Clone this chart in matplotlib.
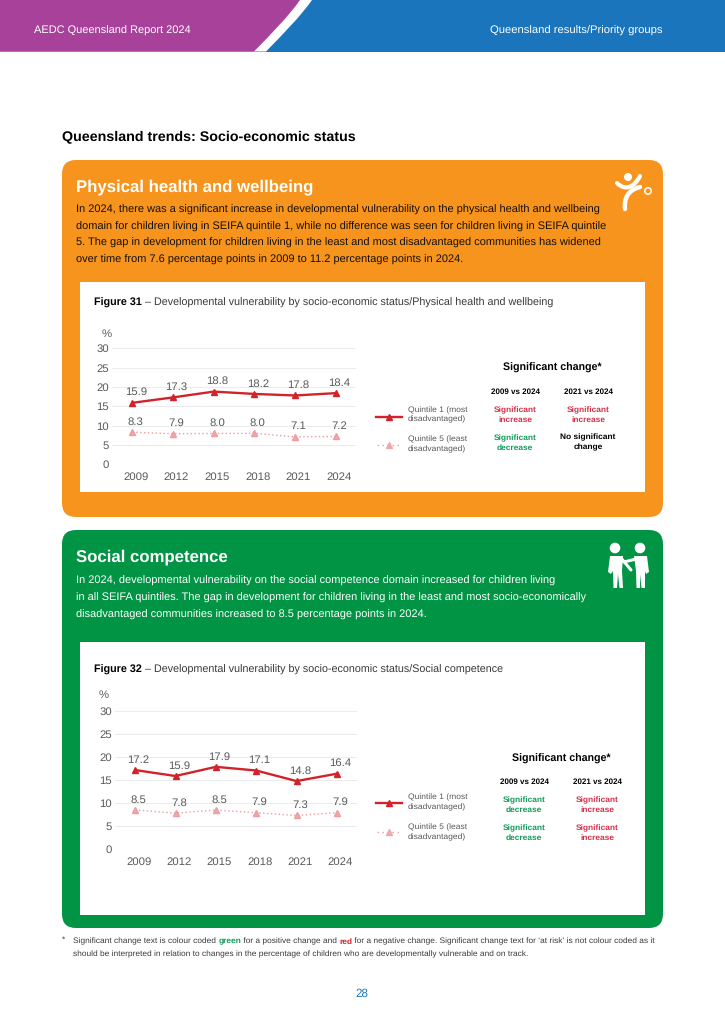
import matplotlib
matplotlib.use('Agg')
import matplotlib.pyplot as plt
from matplotlib.patches import FancyBboxPatch, PathPatch, Circle, Rectangle, Polygon
from matplotlib.path import Path
from matplotlib.transforms import ScaledTranslation

plt.rcParams['font.family'] = ['Liberation Sans', 'DejaVu Sans']
plt.rcParams['text.hinting'] = 'no_hinting'

W, H = 725, 1024

# chart data
years = ['2009', '2012', '2015', '2018', '2021', '2024']
fig31_q1 = [15.9, 17.3, 18.8, 18.2, 17.8, 18.4]
fig31_q5 = [8.3, 7.9, 8.0, 8.0, 7.1, 7.2]
fig32_q1 = [17.2, 15.9, 17.9, 17.1, 14.8, 16.4]
fig32_q5 = [8.5, 7.8, 8.5, 7.9, 7.3, 7.9]
y_ticks = [0, 5, 10, 15, 20, 25, 30]

fig31_cells = [['Significant\nincrease', 'Significant\nincrease'],
               ['Significant\ndecrease', 'No significant\nchange']]
fig32_cells = [['Significant\ndecrease', 'Significant\nincrease'],
               ['Significant\ndecrease', 'Significant\nincrease']]

body_physical = ['In 2024, there was a significant increase in developmental vulnerability on the physical health and wellbeing',
                 'domain for children living in SEIFA quintile 1, while no difference was seen for children living in SEIFA quintile',
                 '5. The gap in development for children living in the least and most disadvantaged communities has widened',
                 'over time from 7.6 percentage points in 2009 to 11.2 percentage points in 2024.']
body_social = ['In 2024, developmental vulnerability on the social competence domain increased for children living',
               'in all SEIFA quintiles. The gap in development for children living in the least and most socio-economically',
               'disadvantaged communities increased to 8.5 percentage points in 2024.']

PURPLE = '#A8419A'
BLUE = '#1B75BC'
ORANGE = '#F7941D'
GREEN = '#009444'
RED = '#D2232A'
PINK = '#EE9CA0'
CELL_RED = '#D2304A'
CELL_GREEN = '#139A5B'
GREY = '#58595B'

fig = plt.figure(figsize=(W / 100, H / 100), dpi=100, facecolor='white')
page = fig.add_axes([0, 0, 1, 1])
page.set_xlim(0, W)
page.set_ylim(H, 0)
page.axis('off')


def txt(x, y, s, size, color='black', weight='normal', ha='left', **kw):
    return page.text(x, y + 0.7, s, fontsize=size, color=color, fontweight=weight,
                     ha=ha, va='center', **kw)


# header band
page.add_patch(Rectangle((0, 0), W, 51.5, fc=BLUE, ec='none'))
slash = Path([(266, 51.5), (284, 33), (300, 17), (312, 0), (0, 0), (0, 51.5), (266, 51.5)],
             [Path.MOVETO, Path.CURVE4, Path.CURVE4, Path.CURVE4, Path.LINETO, Path.LINETO, Path.CLOSEPOLY])
page.add_patch(PathPatch(slash, fc='white', ec='none'))
purple = Path([(254, 51.5), (272, 33), (288, 17), (300, 0), (0, 0), (0, 51.5), (254, 51.5)],
              [Path.MOVETO, Path.CURVE4, Path.CURVE4, Path.CURVE4, Path.LINETO, Path.LINETO, Path.CLOSEPOLY])
page.add_patch(PathPatch(purple, fc=PURPLE, ec='none'))
txt(34, 30, 'AEDC Queensland Report 2024', 7.95, 'white')
txt(663, 30, 'Queensland results/Priority groups', 8.15, 'white', ha='right')

txt(62, 136, 'Queensland trends: Socio-economic status', 10.3, 'black', 'bold')


def panel(x0, y0, x1, y1, color):
    page.add_patch(FancyBboxPatch((x0 + 14, y0 + 14), x1 - x0 - 28, y1 - y0 - 28,
                                  boxstyle='round,pad=14,rounding_size=14',
                                  fc=color, ec='none', mutation_aspect=1))


def chart(left, right, top_y, zero_y, q1, q5):
    # y range 0-30 sits between the two gridline pixel rows
    ax = fig.add_axes([left / W, 1 - zero_y / H, (right - left) / W, (zero_y - top_y) / H])
    ax.patch.set_alpha(0)
    x = range(len(years))
    ax.plot(x, q5, color=PINK, lw=1.0, ls=(0, (1, 1.8)), marker='^', ms=4.4, mec=PINK, mfc='#F0A8AC', zorder=3)
    ax.plot(x, q1, color=RED, lw=1.7, marker='^', ms=4.4, mec=RED, mfc=RED, zorder=4)
    # labels in the reference sit a little right of their points
    for i in x:
        ax.annotate(f'{q1[i]:.1f}', (i, q1[i]), xytext=(2.5, 7.4), textcoords='offset points',
                    ha='center', va='center', fontsize=8.2, color=GREY)
        ax.annotate(f'{q5[i]:.1f}', (i, q5[i]), xytext=(2.5, 7.4), textcoords='offset points',
                    ha='center', va='center', fontsize=8.2, color=GREY)
    ax.set_xlim(-0.5, 5.5)
    ax.set_ylim(0, 30)
    ax.set_xticks(list(x))
    ax.set_xticklabels(years)
    ax.set_yticks(y_ticks)
    ax.grid(axis='y', color='#EAEBEC', lw=0.7)
    ax.set_axisbelow(True)
    ax.tick_params(axis='both', length=0, labelsize=8.2, labelcolor=GREY, pad=2)
    ax.tick_params(axis='x', pad=5.5)
    shift = ScaledTranslation(2.5 / 72, 0, fig.dpi_scale_trans)
    for lab in ax.get_xticklabels():
        lab.set_transform(lab.get_transform() + shift)
    for s in ax.spines.values():
        s.set_visible(False)
    return ax


def legend_block(line_y, q1_rows, q5_y, q5_rows):
    page.plot([376, 402], [line_y, line_y], color=RED, lw=1.7, zorder=3)
    page.plot([389], [line_y], marker='^', ms=4.2, color=RED, zorder=4)
    page.plot([377, 401], [q5_y, q5_y], color=PINK, lw=1.0, ls=(0, (1, 2.6)), zorder=3)
    page.plot([389], [q5_y], marker='^', ms=4.2, color='#F0A8AC', zorder=4)
    txt(408, q1_rows[0], 'Quintile 1 (most', 6.1, GREY)
    txt(408, q1_rows[1], 'disadvantaged)', 6.1, GREY)
    txt(408, q5_rows[0], 'Quintile 5 (least', 6.1, GREY)
    txt(408, q5_rows[1], 'disadvantaged)', 6.1, GREY)


def change_table(title_x, title_y, head_y, col_x, row_y, cells):
    txt(title_x, title_y, 'Significant change*', 7.7, 'black', 'bold', ha='center')
    heads = ['2009 vs 2024', '2021 vs 2024']
    for c in range(2):
        txt(col_x[c], head_y, heads[c], 5.8, 'black', 'bold', ha='center')
        for r in range(2):
            s = cells[r][c]
            col = CELL_RED if 'increase' in s else CELL_GREEN
            if s.startswith('No'):
                col = 'black'
            txt(col_x[c], row_y[r], s, 6.0, col, 'bold', ha='center', linespacing=1.42)


# physical health panel
panel(62, 160, 663, 517, ORANGE)
txt(76, 186, 'Physical health and wellbeing', 12.1, 'white', 'bold')
for i in range(len(body_physical)):
    txt(76, [209, 226, 242, 259][i], body_physical[i], 7.95, '#140F05')
page.add_patch(Rectangle((80, 282), 565, 210, fc='white', ec='none'))
t = txt(94, 302, 'Figure 31', 7.75, 'black', 'bold')
fig.canvas.draw()
bb = t.get_window_extent()
txt(bb.x1 + 3, 302, '– Developmental vulnerability by socio-economic status/Physical health and wellbeing', 7.75, '#3A3A3C')
txt(107, 333, '%', 8.2, GREY, ha='center')
chart(112, 356, 348.3, 464.3, fig31_q1, fig31_q5)
legend_block(416.7, (410, 419), 445, (439, 449))
change_table(552, 367, 391, (515, 588), (414, 442), fig31_cells)

# runner icon
page.add_patch(Circle((628, 177), 4, fc='white', ec='none'))
page.add_patch(Circle((648, 191), 3.2, fc='none', ec='white', lw=1.1))
arm = Path([(617, 183), (626, 192), (635, 186), (640, 176)], [Path.MOVETO, Path.CURVE4, Path.CURVE4, Path.CURVE4])
page.add_patch(PathPatch(arm, fc='none', ec='white', lw=3, capstyle='round'))
leg = Path([(640, 187), (628, 190), (624, 198), (625, 209)], [Path.MOVETO, Path.CURVE4, Path.CURVE4, Path.CURVE4])
page.add_patch(PathPatch(leg, fc='none', ec='white', lw=3.2, capstyle='round'))

# social competence panel
panel(62, 530, 663, 928, GREEN)
txt(76, 556, 'Social competence', 12.1, 'white', 'bold')
for i in range(len(body_social)):
    txt(76, [580, 597, 614][i], body_social[i], 7.95, 'white')
page.add_patch(Rectangle((80, 642), 565, 273, fc='white', ec='none'))
t = txt(94, 669, 'Figure 32', 7.75, 'black', 'bold')
fig.canvas.draw()
bb = t.get_window_extent()
txt(bb.x1 + 3, 669, '– Developmental vulnerability by socio-economic status/Social competence', 7.75, '#3A3A3C')
txt(104, 694, '%', 8.2, GREY, ha='center')
chart(115, 357, 711.3, 849, fig32_q1, fig32_q5)
legend_block(803, (797, 807), 832, (827, 837))
change_table(561, 758, 781, (524, 597), (804.5, 832.5), fig32_cells)

# two children icon
for cx in (615, 640):
    page.add_patch(Circle((cx, 548), 5.3, fc='white', ec='none'))
page.add_patch(Polygon([(610, 556), (623, 556), (622, 571), (623, 588), (619.5, 588), (618, 574),
                        (617, 588), (613.5, 588), (613, 571), (611, 574), (608, 572)], fc='white', ec='none'))
page.add_patch(Polygon([(634, 556), (647, 556), (649, 572), (646, 574), (645, 571), (645, 588),
                        (641.5, 588), (640, 574), (640, 588), (636.5, 588), (636, 571)], fc='white', ec='none'))
page.plot([621, 631], [558, 570], color='white', lw=2.2, solid_capstyle='round')
page.plot([636, 624], [559, 562], color='white', lw=2.2, solid_capstyle='round')

# footnote with coloured words
txt(62, 939, '*', 6.0, '#3A3A3C')
foot = [('Significant change text is colour coded ', '#3A3A3C', 'normal'),
        ('green', CELL_GREEN, 'bold'),
        (' for a positive change and ', '#3A3A3C', 'normal'),
        ('red', RED, 'bold'),
        (' for a negative change. Significant change text for ‘at risk’ is not colour coded as it', '#3A3A3C', 'normal')]
x = 73
for s, col, w in foot:
    t = txt(x, 941, s.replace(' ', '\u00a0'), 6.0, col, w)
    fig.canvas.draw()
    x = t.get_window_extent().x1
txt(73, 954, 'should be interpreted in relation to changes in the percentage of children who are developmentally vulnerable and on track.', 6.0, '#3A3A3C')

txt(362, 993, '28', 8.4, BLUE, ha='center')

fig.savefig('out.png', dpi=100)
